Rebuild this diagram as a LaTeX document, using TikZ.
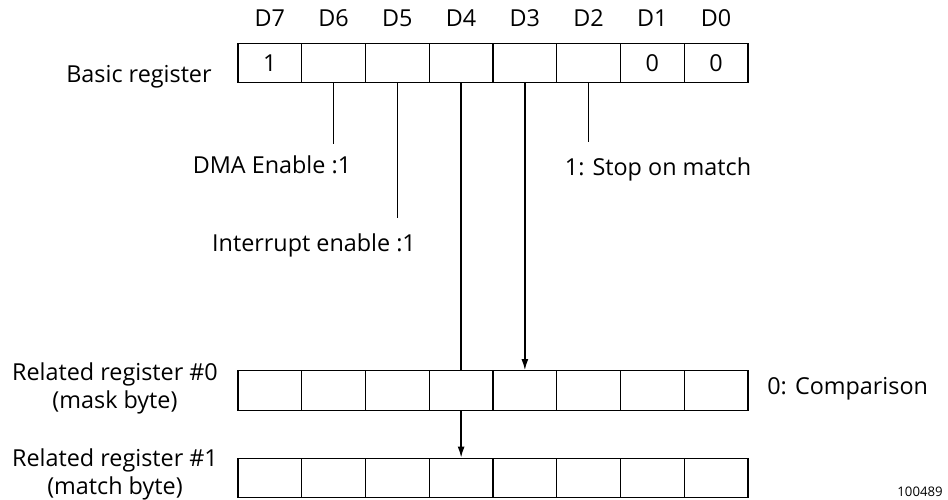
\documentclass[tikz,border=0pt]{standalone}
\usepackage{fontspec}
\setmainfont{Open Sans}
\usetikzlibrary{arrows.meta}
\newcommand{\regfont}{\fontsize{13.3}{16}\selectfont}
\newcommand{\tagfont}{\fontsize{7.5}{9}\selectfont}

\begin{document}
\begin{tikzpicture}[
  x=0.02cm, y=-0.02cm,
  cell/.style={draw, line width=0.8pt, minimum width=1.275cm, minimum height=0.79cm, inner sep=0pt, font=\regfont},
  lbl/.style={inner sep=0pt, font=\regfont},
  wire/.style={line width=0.8pt},
  arr/.style={line width=0.8pt, -{Latex[length=2.2mm,width=1.4mm]}}
]
\fill[white] (0,0) rectangle (948,500);
\useasboundingbox (0,0) rectangle (948,500);

\foreach \i/\v in {7/1,6/,5/,4/,3/,2/,1/0,0/0} {
  \pgfmathsetmacro\cx{269.875+63.75*(7-\i)}
  \node[cell] (bas\i) at (\cx,63) {\v};
  \node[lbl, anchor=base] (bit\i) at (\cx,27) {D\i};
  \node[cell] (msk\i) at (\cx,390.5) {};
  \node[cell] (mat\i) at (\cx,478) {};
}

\node[lbl, anchor=base east] (basic) at (212,83) {Basic register};
\node[lbl, align=center] (rel0) at (115,388) {Related register \#0\\(mask byte)};
\node[lbl, align=center] (rel1) at (115,474) {Related register \#1\\(match byte)};
\node[lbl, anchor=base west] (cmp) at (767,395) {0: Comparison};
\node[inner sep=0pt, font=\tagfont, anchor=base east] (fig) at (943,497) {100489};

\node[lbl, anchor=base] (dma) at (272,174) {DMA Enable :1};
\node[lbl, anchor=base] (irq) at (314,252) {Interrupt enable :1};
\node[lbl, anchor=base] (stop) at (658,176) {1: Stop on match};

\path (bas6.south) ++(0,61) coordinate (dmatip);
\path (bas5.south) ++(0,135) coordinate (irqtip);
\path (bas2.south) ++(0,59) coordinate (stoptip);

\draw[wire] (bas6.south) -- (dmatip);
\draw[wire] (bas5.south) -- (irqtip);
\draw[wire] (bas2.south) -- (stoptip);
\draw[wire] (bas4.south) -- (msk4.north);
\draw[arr] (msk4.south) -- (mat4.north);
\draw[arr] (bas3.south) -- (msk3.north);
\end{tikzpicture}
\end{document}
